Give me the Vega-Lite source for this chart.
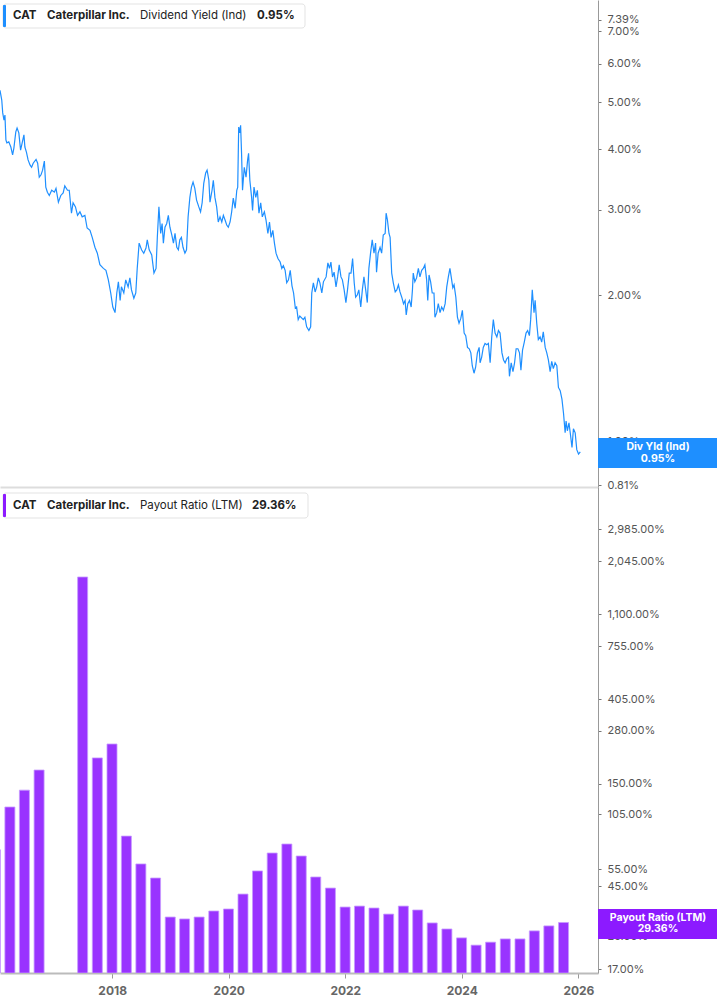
{
  "$schema": "https://vega.github.io/schema/vega-lite/v6.json",
  "padding": 0,
  "background": "white",
  "spacing": 0,
  "bounds": "flush",
  "config": {"view": {"stroke": null}, "font": "Inter"},
  "resolve": {"scale": {"x": "independent", "y": "independent"}, "axis": {"x": "independent", "y": "independent"}},
  "datasets": {
    "yield": [
      {"date":"2016-01-29","yield":5.29},{"date":"2016-02-09","yield":5.05},{"date":"2016-02-15","yield":4.75},{"date":"2016-02-23","yield":4.59},{"date":"2016-02-29","yield":4.70},{"date":"2016-03-06","yield":4.18},{"date":"2016-03-12","yield":4.12},{"date":"2016-03-24","yield":4.14},{"date":"2016-04-06","yield":4.04},{"date":"2016-04-17","yield":3.89},{"date":"2016-04-25","yield":4.02},{"date":"2016-05-07","yield":4.34},{"date":"2016-05-15","yield":4.42},{"date":"2016-05-26","yield":4.32},{"date":"2016-06-06","yield":3.98},{"date":"2016-06-16","yield":4.12},{"date":"2016-06-27","yield":4.28},{"date":"2016-07-03","yield":4.04},{"date":"2016-07-13","yield":3.94},{"date":"2016-07-23","yield":3.80},{"date":"2016-08-04","yield":3.71},{"date":"2016-08-14","yield":3.67},{"date":"2016-08-24","yield":3.74},{"date":"2016-09-11","yield":3.81},{"date":"2016-09-21","yield":3.74},{"date":"2016-10-01","yield":3.50},{"date":"2016-10-12","yield":3.54},{"date":"2016-10-22","yield":3.62},{"date":"2016-11-02","yield":3.78},{"date":"2016-11-11","yield":3.34},{"date":"2016-11-21","yield":3.26},{"date":"2016-12-03","yield":3.21},{"date":"2016-12-18","yield":3.29},
      {"date":"2017-01-04","yield":3.26},{"date":"2017-01-14","yield":3.32},{"date":"2017-01-29","yield":3.11},{"date":"2017-02-13","yield":3.21},{"date":"2017-02-28","yield":3.25},{"date":"2017-03-10","yield":3.36},{"date":"2017-03-27","yield":3.29},{"date":"2017-04-07","yield":3.29},{"date":"2017-04-21","yield":2.95},{"date":"2017-05-01","yield":3.10},{"date":"2017-05-16","yield":3.04},{"date":"2017-05-29","yield":2.92},{"date":"2017-06-13","yield":2.97},{"date":"2017-06-27","yield":2.90},{"date":"2017-07-14","yield":2.92},{"date":"2017-07-28","yield":2.75},{"date":"2017-08-15","yield":2.72},{"date":"2017-08-29","yield":2.63},{"date":"2017-09-15","yield":2.51},{"date":"2017-09-30","yield":2.44},{"date":"2017-10-16","yield":2.31},{"date":"2017-11-07","yield":2.27},{"date":"2017-11-23","yield":2.25},{"date":"2017-12-08","yield":2.15},{"date":"2017-12-23","yield":2.02},
      {"date":"2018-01-05","yield":1.89},{"date":"2018-01-19","yield":1.84},{"date":"2018-01-30","yield":2.02},{"date":"2018-02-09","yield":2.13},{"date":"2018-02-20","yield":1.95},{"date":"2018-02-28","yield":2.08},{"date":"2018-03-15","yield":2.02},{"date":"2018-03-27","yield":2.15},{"date":"2018-04-11","yield":2.08},{"date":"2018-04-22","yield":2.17},{"date":"2018-05-02","yield":2.05},{"date":"2018-05-17","yield":1.97},{"date":"2018-05-29","yield":2.02},{"date":"2018-06-07","yield":2.27},{"date":"2018-06-19","yield":2.56},{"date":"2018-07-04","yield":2.48},{"date":"2018-07-18","yield":2.44},{"date":"2018-08-01","yield":2.50},{"date":"2018-08-09","yield":2.60},{"date":"2018-08-21","yield":2.48},{"date":"2018-09-06","yield":2.42},{"date":"2018-09-20","yield":2.22},{"date":"2018-10-03","yield":2.27},{"date":"2018-10-11","yield":2.63},{"date":"2018-10-21","yield":3.04},{"date":"2018-11-01","yield":2.68},{"date":"2018-11-10","yield":2.81},{"date":"2018-11-18","yield":2.56},{"date":"2018-11-28","yield":2.76},{"date":"2018-12-09","yield":2.81},{"date":"2018-12-19","yield":2.92},{"date":"2018-12-29","yield":2.76},
      {"date":"2019-01-10","yield":2.66},{"date":"2019-01-20","yield":2.56},{"date":"2019-01-30","yield":2.68},{"date":"2019-02-10","yield":2.51},{"date":"2019-02-20","yield":2.48},{"date":"2019-03-01","yield":2.60},{"date":"2019-03-11","yield":2.63},{"date":"2019-03-21","yield":2.51},{"date":"2019-04-02","yield":2.44},{"date":"2019-04-12","yield":2.48},{"date":"2019-04-22","yield":2.90},{"date":"2019-05-03","yield":3.18},{"date":"2019-05-13","yield":3.34},{"date":"2019-05-23","yield":3.42},{"date":"2019-06-03","yield":3.32},{"date":"2019-06-14","yield":3.14},{"date":"2019-06-28","yield":3.04},{"date":"2019-07-09","yield":2.97},{"date":"2019-07-19","yield":3.10},{"date":"2019-07-29","yield":3.40},{"date":"2019-08-10","yield":3.57},{"date":"2019-08-19","yield":3.62},{"date":"2019-08-30","yield":3.45},{"date":"2019-09-06","yield":3.11},{"date":"2019-09-19","yield":3.29},{"date":"2019-09-27","yield":3.45},{"date":"2019-10-07","yield":3.18},{"date":"2019-10-18","yield":3.04},{"date":"2019-10-28","yield":2.83},{"date":"2019-11-08","yield":2.90},{"date":"2019-11-19","yield":2.83},{"date":"2019-11-29","yield":2.92},{"date":"2019-12-09","yield":2.86},{"date":"2019-12-20","yield":2.79},{"date":"2019-12-30","yield":2.76},
      {"date":"2020-01-10","yield":2.83},{"date":"2020-01-20","yield":2.97},{"date":"2020-01-30","yield":3.17},{"date":"2020-02-11","yield":3.02},{"date":"2020-02-21","yield":3.29},{"date":"2020-02-27","yield":3.34},{"date":"2020-03-04","yield":4.44},{"date":"2020-03-10","yield":4.32},{"date":"2020-03-16","yield":4.48},{"date":"2020-03-22","yield":3.92},{"date":"2020-03-28","yield":3.29},{"date":"2020-04-08","yield":3.67},{"date":"2020-04-19","yield":3.50},{"date":"2020-04-29","yield":3.80},{"date":"2020-05-05","yield":3.92},{"date":"2020-05-13","yield":3.45},{"date":"2020-05-24","yield":3.18},{"date":"2020-05-30","yield":2.99},{"date":"2020-06-08","yield":3.34},{"date":"2020-06-19","yield":3.18},{"date":"2020-06-29","yield":3.29},{"date":"2020-07-09","yield":2.95},{"date":"2020-07-20","yield":3.10},{"date":"2020-07-30","yield":2.90},{"date":"2020-08-12","yield":2.97},{"date":"2020-08-22","yield":2.86},{"date":"2020-09-03","yield":2.68},{"date":"2020-09-13","yield":2.83},{"date":"2020-09-23","yield":2.63},{"date":"2020-10-04","yield":2.72},{"date":"2020-10-14","yield":2.56},{"date":"2020-10-24","yield":2.44},{"date":"2020-11-05","yield":2.38},{"date":"2020-11-19","yield":2.34},{"date":"2020-11-29","yield":2.27},{"date":"2020-12-09","yield":2.30},{"date":"2020-12-20","yield":2.25},{"date":"2020-12-30","yield":2.12},
      {"date":"2021-01-10","yield":2.15},{"date":"2021-01-21","yield":2.25},{"date":"2021-02-01","yield":2.09},{"date":"2021-02-11","yield":2.02},{"date":"2021-02-22","yield":1.88},{"date":"2021-03-02","yield":1.89},{"date":"2021-03-12","yield":1.78},{"date":"2021-03-22","yield":1.81},{"date":"2021-04-13","yield":1.78},{"date":"2021-04-23","yield":1.80},{"date":"2021-05-04","yield":1.72},{"date":"2021-05-18","yield":1.69},{"date":"2021-05-29","yield":1.72},{"date":"2021-06-05","yield":2.02},{"date":"2021-06-15","yield":2.12},{"date":"2021-06-26","yield":2.03},{"date":"2021-07-06","yield":2.08},{"date":"2021-07-16","yield":2.17},{"date":"2021-07-26","yield":2.12},{"date":"2021-08-07","yield":2.02},{"date":"2021-08-17","yield":2.13},{"date":"2021-09-03","yield":2.18},{"date":"2021-09-14","yield":2.33},{"date":"2021-09-24","yield":2.27},{"date":"2021-10-03","yield":2.34},{"date":"2021-10-13","yield":2.18},{"date":"2021-10-23","yield":2.23},{"date":"2021-11-04","yield":2.08},{"date":"2021-11-14","yield":2.18},{"date":"2021-11-24","yield":2.31},{"date":"2021-12-05","yield":2.18},{"date":"2021-12-14","yield":2.15},{"date":"2021-12-25","yield":2.05},
      {"date":"2022-01-05","yield":1.93},{"date":"2022-01-15","yield":2.05},{"date":"2022-01-26","yield":2.22},{"date":"2022-02-06","yield":2.22},{"date":"2022-02-16","yield":2.38},{"date":"2022-02-26","yield":2.12},{"date":"2022-03-07","yield":1.98},{"date":"2022-03-17","yield":2.00},{"date":"2022-03-27","yield":2.05},{"date":"2022-04-08","yield":1.89},{"date":"2022-04-18","yield":2.05},{"date":"2022-04-28","yield":2.18},{"date":"2022-05-09","yield":2.05},{"date":"2022-05-19","yield":1.93},{"date":"2022-05-29","yield":2.27},{"date":"2022-06-09","yield":2.45},{"date":"2022-06-19","yield":2.60},{"date":"2022-06-30","yield":2.44},{"date":"2022-07-10","yield":2.56},{"date":"2022-07-16","yield":2.23},{"date":"2022-07-26","yield":2.44},{"date":"2022-08-07","yield":2.51},{"date":"2022-08-17","yield":2.44},{"date":"2022-08-27","yield":2.66},{"date":"2022-09-08","yield":2.68},{"date":"2022-09-14","yield":2.95},{"date":"2022-09-22","yield":2.86},{"date":"2022-10-02","yield":2.68},{"date":"2022-10-09","yield":2.63},{"date":"2022-10-19","yield":2.22},{"date":"2022-10-29","yield":2.12},{"date":"2022-11-10","yield":2.03},{"date":"2022-11-20","yield":2.05},{"date":"2022-11-30","yield":2.10},{"date":"2022-12-10","yield":2.03},{"date":"2022-12-21","yield":1.98},
      {"date":"2023-01-01","yield":1.92},{"date":"2023-01-11","yield":1.95},{"date":"2023-01-18","yield":1.82},{"date":"2023-01-28","yield":1.92},{"date":"2023-02-08","yield":1.95},{"date":"2023-02-18","yield":1.89},{"date":"2023-02-26","yield":2.05},{"date":"2023-03-03","yield":2.22},{"date":"2023-03-13","yield":2.13},{"date":"2023-03-24","yield":2.17},{"date":"2023-04-04","yield":2.27},{"date":"2023-04-14","yield":2.18},{"date":"2023-04-25","yield":2.25},{"date":"2023-05-05","yield":2.27},{"date":"2023-05-15","yield":2.31},{"date":"2023-05-26","yield":2.15},{"date":"2023-06-02","yield":1.95},{"date":"2023-06-10","yield":2.20},{"date":"2023-06-20","yield":2.13},{"date":"2023-06-30","yield":2.02},{"date":"2023-07-11","yield":2.02},{"date":"2023-07-17","yield":1.80},{"date":"2023-07-28","yield":1.84},{"date":"2023-08-07","yield":1.92},{"date":"2023-08-18","yield":1.84},{"date":"2023-08-28","yield":1.89},{"date":"2023-09-08","yield":1.86},{"date":"2023-09-19","yield":1.92},{"date":"2023-09-29","yield":2.08},{"date":"2023-10-09","yield":2.18},{"date":"2023-10-19","yield":2.27},{"date":"2023-10-27","yield":2.18},{"date":"2023-11-06","yield":2.07},{"date":"2023-11-14","yield":2.10},{"date":"2023-11-25","yield":1.98},{"date":"2023-12-05","yield":1.80},{"date":"2023-12-15","yield":1.75},{"date":"2023-12-26","yield":1.79},
      {"date":"2024-01-05","yield":1.86},{"date":"2024-01-16","yield":1.67},{"date":"2024-01-26","yield":1.65},{"date":"2024-02-06","yield":1.56},{"date":"2024-02-17","yield":1.55},{"date":"2024-02-27","yield":1.52},{"date":"2024-03-07","yield":1.43},{"date":"2024-03-18","yield":1.38},{"date":"2024-03-28","yield":1.42},{"date":"2024-04-08","yield":1.52},{"date":"2024-04-19","yield":1.56},{"date":"2024-04-25","yield":1.45},{"date":"2024-05-05","yield":1.49},{"date":"2024-05-15","yield":1.56},{"date":"2024-05-26","yield":1.59},{"date":"2024-06-06","yield":1.58},{"date":"2024-06-16","yield":1.59},{"date":"2024-06-27","yield":1.45},{"date":"2024-07-07","yield":1.64},{"date":"2024-07-17","yield":1.78},{"date":"2024-07-28","yield":1.67},{"date":"2024-08-08","yield":1.64},{"date":"2024-08-18","yield":1.69},{"date":"2024-08-28","yield":1.67},{"date":"2024-09-09","yield":1.52},{"date":"2024-09-19","yield":1.47},{"date":"2024-09-29","yield":1.45},{"date":"2024-10-10","yield":1.48},{"date":"2024-10-20","yield":1.49},{"date":"2024-10-26","yield":1.36},{"date":"2024-11-06","yield":1.45},{"date":"2024-11-17","yield":1.39},{"date":"2024-11-27","yield":1.45},{"date":"2024-12-07","yield":1.55},{"date":"2024-12-18","yield":1.55},{"date":"2024-12-28","yield":1.52},
      {"date":"2025-01-06","yield":1.40},{"date":"2025-01-16","yield":1.54},{"date":"2025-01-27","yield":1.60},{"date":"2025-02-07","yield":1.67},{"date":"2025-02-17","yield":1.69},{"date":"2025-02-28","yield":1.65},{"date":"2025-03-08","yield":1.78},{"date":"2025-03-18","yield":2.05},{"date":"2025-03-29","yield":1.84},{"date":"2025-04-05","yield":1.95},{"date":"2025-04-15","yield":1.75},{"date":"2025-04-25","yield":1.62},{"date":"2025-05-06","yield":1.64},{"date":"2025-05-16","yield":1.60},{"date":"2025-05-26","yield":1.68},{"date":"2025-06-07","yield":1.56},{"date":"2025-06-17","yield":1.52},{"date":"2025-06-27","yield":1.47},{"date":"2025-07-08","yield":1.39},{"date":"2025-07-18","yield":1.46},{"date":"2025-07-28","yield":1.41},{"date":"2025-08-08","yield":1.45},{"date":"2025-08-19","yield":1.43},{"date":"2025-08-29","yield":1.29},{"date":"2025-09-09","yield":1.27},{"date":"2025-09-20","yield":1.22},{"date":"2025-09-30","yield":1.14},{"date":"2025-10-10","yield":1.04},{"date":"2025-10-16","yield":1.10},{"date":"2025-10-24","yield":1.05},{"date":"2025-11-03","yield":1.09},{"date":"2025-11-11","yield":1.04},{"date":"2025-11-22","yield":0.97},{"date":"2025-12-01","yield":1.06},{"date":"2025-12-12","yield":1.04},{"date":"2025-12-22","yield":0.96},{"date":"2026-01-02","yield":0.94},{"date":"2026-01-13","yield":0.95}
    ],
    "payout": [
      {"date":"2015-12-31","ratio":69},{"date":"2016-03-31","ratio":114},{"date":"2016-06-30","ratio":139},{"date":"2016-09-30","ratio":176},
      {"date":"2017-06-30","ratio":1700},{"date":"2017-09-30","ratio":203},{"date":"2017-12-31","ratio":239},
      {"date":"2018-03-31","ratio":81},{"date":"2018-06-30","ratio":58.4},{"date":"2018-09-30","ratio":49.5},{"date":"2018-12-31","ratio":31.3},
      {"date":"2019-03-31","ratio":30.6},{"date":"2019-06-30","ratio":31.3},{"date":"2019-09-30","ratio":33.6},{"date":"2019-12-31","ratio":34.4},
      {"date":"2020-03-31","ratio":41.0},{"date":"2020-06-30","ratio":53.8},{"date":"2020-09-30","ratio":66.4},{"date":"2020-12-31","ratio":73.8},
      {"date":"2021-03-31","ratio":64.1},{"date":"2021-06-30","ratio":50.1},{"date":"2021-09-30","ratio":44.0},{"date":"2021-12-31","ratio":35.2},
      {"date":"2022-03-31","ratio":35.6},{"date":"2022-06-30","ratio":34.8},{"date":"2022-09-30","ratio":32.4},{"date":"2022-12-31","ratio":35.6},
      {"date":"2023-03-31","ratio":34.0},{"date":"2023-06-30","ratio":29.2},{"date":"2023-09-30","ratio":27.2},{"date":"2023-12-31","ratio":24.5},
      {"date":"2024-03-31","ratio":22.5},{"date":"2024-06-30","ratio":23.3},{"date":"2024-09-30","ratio":24.2},{"date":"2024-12-31","ratio":24.2},
      {"date":"2025-03-31","ratio":26.6},{"date":"2025-06-30","ratio":28.2},{"date":"2025-09-30","ratio":29.36}
    ]
  },
  "vconcat": [
    {
      "width": 598,
      "height": 487,
      "layer": [
        {
          "data": {"name": "yield"},
          "mark": {"type": "line", "color": "#1e8fff", "strokeWidth": 1.2, "clip": true},
          "encoding": {
            "x": {"field": "date", "type": "temporal",
                  "scale": {"domain": [{"year": 2016, "month": 1, "date": 29}, {"year": 2026, "month": 5, "date": 4}], "padding": 0, "nice": false},
                  "axis": {"title": null, "grid": false, "labels": false, "ticks": false, "domain": true, "domainColor": "#dddddd", "domainWidth": 2}},
            "y": {"field": "yield", "type": "quantitative",
                  "scale": {"type": "log", "domain": [0.804, 8.12], "nice": false},
                  "axis": {"orient": "right", "title": null, "grid": false, "values": [0.81, 1, 2, 3, 4, 5, 6, 7, 7.39],
                           "labelExpr": "format(datum.value, '.2f') + '%'", "labelOverlap": false, "labelFlush": false,
                           "domainColor": "#999999", "tickColor": "#777777", "tickSize": 3, "labelPadding": 6,
                           "labelColor": "#555555", "labelFontSize": 11, "labelFont": "Inter"}}
          }
        },
        {"data": {"values": [{}]}, "mark": {"type": "rect", "x": 3, "x2": 305, "y": 4, "y2": 28, "fill": "white", "stroke": "#e3e3e3", "strokeWidth": 1, "cornerRadius": 3}},
        {"data": {"values": [{}]}, "mark": {"type": "rect", "x": 3, "x2": 6, "y": 5, "y2": 27, "fill": "#1e8fff", "cornerRadius": 1}},
        {"data": {"values": [{}]}, "mark": {"type": "text", "text": "CAT", "x": 13, "y": 16, "align": "left", "baseline": "middle", "fontWeight": "bold", "fontSize": 11.5, "font": "Inter", "color": "#222222"}},
        {"data": {"values": [{}]}, "mark": {"type": "text", "text": "Caterpillar Inc.", "x": 47, "y": 16, "align": "left", "baseline": "middle", "fontWeight": "bold", "fontSize": 11.5, "font": "Inter", "color": "#222222"}},
        {"data": {"values": [{}]}, "mark": {"type": "text", "text": "Dividend Yield (Ind)", "x": 140, "y": 16, "align": "left", "baseline": "middle", "fontWeight": "normal", "fontSize": 11.5, "font": "Inter", "color": "#222222"}},
        {"data": {"values": [{}]}, "mark": {"type": "text", "text": "0.95%", "x": 257, "y": 16, "align": "left", "baseline": "middle", "fontWeight": "bold", "fontSize": 11.5, "font": "Inter", "color": "#222222"}},
        {"data": {"values": [{}]}, "mark": {"type": "rect", "x": 598, "x2": 717, "y": 438, "y2": 468, "fill": "#1e8fff"}},
        {"data": {"values": [{}]}, "mark": {"type": "text", "text": "Div Yld (Ind)", "x": 658, "y": 447, "align": "center", "baseline": "middle", "fontWeight": "bold", "fontSize": 10.5, "font": "Inter", "color": "white"}},
        {"data": {"values": [{}]}, "mark": {"type": "text", "text": "0.95%", "x": 658, "y": 459, "align": "center", "baseline": "middle", "fontWeight": "bold", "fontSize": 10.5, "font": "Inter", "color": "white"}}
      ]
    },
    {
      "width": 598,
      "height": 486,
      "layer": [
        {
          "data": {"name": "payout"},
          "mark": {"type": "bar", "color": "#9933ff", "width": 10, "clip": true, "stroke": "#c79bff", "strokeWidth": 0.8},
          "encoding": {
            "x": {"field": "date", "type": "temporal",
                  "scale": {"domain": [{"year": 2016, "month": 1, "date": 29}, {"year": 2026, "month": 5, "date": 4}], "padding": 0, "nice": false},
                  "axis": {"title": null, "grid": false, "format": "%Y",
                           "values": [{"year": 2018}, {"year": 2020}, {"year": 2022}, {"year": 2024}, {"year": 2026}],
                           "labelFontWeight": "bold", "labelColor": "#666666", "labelFontSize": 12, "labelFont": "Inter",
                           "tickSize": 5, "tickColor": "#999999", "domainColor": "#bbbbbb", "domainWidth": 2, "labelPadding": 7}},
            "y": {"field": "ratio", "type": "quantitative",
                  "scale": {"type": "log", "domain": [16.22, 4893], "nice": false},
                  "axis": {"orient": "right", "title": null, "grid": false, "values": [17, 25, 45, 55, 105, 150, 280, 405, 755, 1100, 2045, 2985],
                           "labelExpr": "format(datum.value, ',.2f') + '%'", "labelOverlap": false, "labelFlush": false,
                           "domainColor": "#999999", "tickColor": "#777777", "tickSize": 3, "labelPadding": 6,
                           "labelColor": "#555555", "labelFontSize": 11, "labelFont": "Inter"}},
            "y2": {"datum": 16.22}
          }
        },
        {"data": {"values": [{}]}, "mark": {"type": "rect", "x": 3, "x2": 308, "y": 6, "y2": 31, "fill": "white", "stroke": "#e3e3e3", "strokeWidth": 1, "cornerRadius": 3}},
        {"data": {"values": [{}]}, "mark": {"type": "rect", "x": 3, "x2": 6, "y": 7, "y2": 30, "fill": "#8c1aff", "cornerRadius": 1}},
        {"data": {"values": [{}]}, "mark": {"type": "text", "text": "CAT", "x": 13, "y": 19, "align": "left", "baseline": "middle", "fontWeight": "bold", "fontSize": 11.5, "font": "Inter", "color": "#222222"}},
        {"data": {"values": [{}]}, "mark": {"type": "text", "text": "Caterpillar Inc.", "x": 47, "y": 19, "align": "left", "baseline": "middle", "fontWeight": "bold", "fontSize": 11.5, "font": "Inter", "color": "#222222"}},
        {"data": {"values": [{}]}, "mark": {"type": "text", "text": "Payout Ratio (LTM)", "x": 140, "y": 19, "align": "left", "baseline": "middle", "fontWeight": "normal", "fontSize": 11.5, "font": "Inter", "color": "#222222"}},
        {"data": {"values": [{}]}, "mark": {"type": "text", "text": "29.36%", "x": 252, "y": 19, "align": "left", "baseline": "middle", "fontWeight": "bold", "fontSize": 11.5, "font": "Inter", "color": "#222222"}},
        {"data": {"values": [{}]}, "mark": {"type": "rect", "x": 598, "x2": 717, "y": 422, "y2": 452, "fill": "#8c1aff"}},
        {"data": {"values": [{}]}, "mark": {"type": "text", "text": "Payout Ratio (LTM)", "x": 658, "y": 431, "align": "center", "baseline": "middle", "fontWeight": "bold", "fontSize": 10.5, "font": "Inter", "color": "white"}},
        {"data": {"values": [{}]}, "mark": {"type": "text", "text": "29.36%", "x": 658, "y": 442, "align": "center", "baseline": "middle", "fontWeight": "bold", "fontSize": 10.5, "font": "Inter", "color": "white"}}
      ]
    }
  ]
}
